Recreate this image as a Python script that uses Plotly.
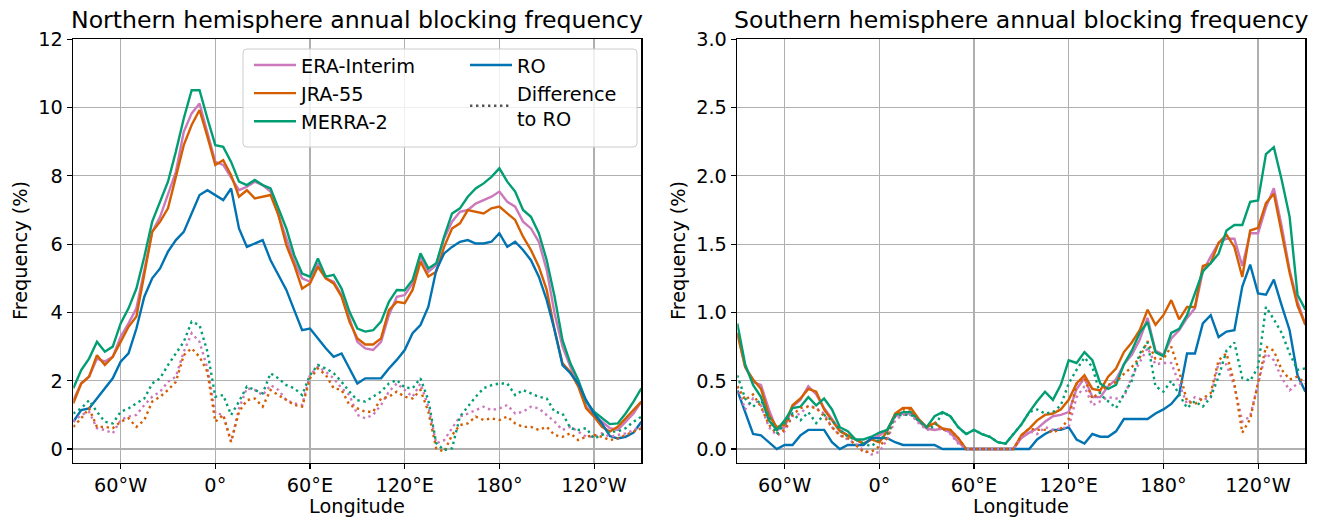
import plotly.graph_objects as go

W, H = 1324, 520

lon = [-90, -85, -80, -75, -70, -65, -60, -55, -50, -45, -40, -35, -30, -25, -20, -15, -10, -5, 0,
       5, 10, 15, 20, 25, 30, 35, 40, 45, 50, 55, 60, 65, 70, 75, 80, 85, 90, 95, 100, 105, 110, 115,
       120, 125, 130, 135, 140, 145, 150, 155, 160, 165, 170, 175, 180, 185, 190, 195, 200, 205, 210,
       215, 220, 225, 230, 235, 240, 245, 250, 255, 260, 265, 270]

xtick_vals = [-60, 0, 60, 120, 180, 240]
xtick_text = ["60°W", "0°", "60°E", "120°E", "180°", "120°W"]
nh_yticks = [0, 2, 4, 6, 8, 10, 12]
sh_yticks = [0.0, 0.5, 1.0, 1.5, 2.0, 2.5, 3.0]

# ---------------- Northern hemisphere ----------------
nh_era = [1.43, 1.92, 2.12, 2.65, 2.56, 2.70, 3.29, 3.68, 4.12, 5.29, 6.36, 6.80, 7.44, 8.12, 9.29, 9.83, 10.12, 9.29, 8.41,
          8.32, 7.93, 7.58, 7.68, 7.83, 7.73, 7.54, 6.85, 6.17, 5.49, 5.00, 4.90, 5.44, 5.00, 4.90, 4.51, 3.83, 3.14, 2.95, 2.90, 3.14, 3.92, 4.46,
          4.51, 4.85, 5.63, 5.19, 5.39, 6.17, 6.66, 6.95, 7.00, 7.19, 7.29, 7.39, 7.54, 7.24, 7.10, 6.66, 6.46, 6.07, 5.24,
          3.97, 3.00, 2.41, 1.92, 1.24, 1.00, 0.80, 0.61, 0.56, 0.80, 1.04, 1.39]
nh_jra = [1.34, 1.92, 2.12, 2.75, 2.46, 2.70, 3.14, 3.58, 3.88, 5.10, 6.36, 6.66, 7.05, 7.97, 8.90, 9.49, 9.93, 9.15, 8.32,
          8.46, 8.02, 7.39, 7.58, 7.34, 7.39, 7.44, 6.85, 5.97, 5.39, 4.70, 4.85, 5.34, 5.00, 4.85, 4.46, 3.73, 3.24, 3.06, 3.06, 3.24, 4.07, 4.31,
          4.27, 4.66, 5.49, 5.05, 5.19, 5.92, 6.46, 6.61, 7.00, 6.95, 6.90, 7.05, 7.10, 6.90, 6.71, 6.22, 5.83, 5.34, 4.66,
          3.48, 2.51, 2.26, 1.83, 1.19, 0.95, 0.65, 0.51, 0.65, 0.90, 1.14, 1.39]
nh_merra = [1.78, 2.31, 2.65, 3.14, 2.85, 3.00, 3.68, 4.12, 4.70, 5.63, 6.66, 7.24, 7.83, 8.71, 9.68, 10.51, 10.51, 9.68, 8.90,
            8.85, 8.41, 7.83, 7.73, 7.88, 7.73, 7.63, 7.05, 6.46, 5.68, 5.14, 5.05, 5.58, 5.05, 5.10, 4.70, 4.02, 3.53, 3.44, 3.48, 3.73, 4.31, 4.66,
            4.65, 4.95, 5.73, 5.29, 5.44, 6.22, 6.90, 7.05, 7.39, 7.63, 7.78, 7.97, 8.22, 7.83, 7.54, 7.00, 6.80, 6.32, 5.53,
            4.46, 3.19, 2.51, 2.02, 1.39, 1.09, 0.90, 0.73, 0.75, 1.04, 1.39, 1.78]
nh_ro = [0.80, 1.14, 1.19, 1.48, 1.78, 2.07, 2.56, 2.80, 3.53, 4.46, 5.00, 5.29, 5.78, 6.12, 6.36, 6.90, 7.44, 7.58, 7.44,
         7.29, 7.63, 6.46, 5.92, 6.02, 6.12, 5.53, 5.10, 4.66, 4.07, 3.48, 3.53, 3.24, 2.95, 2.70, 2.80, 2.36, 1.92, 2.07, 2.07, 2.07, 2.36, 2.61,
         2.90, 3.39, 3.63, 4.17, 5.24, 5.73, 5.92, 6.07, 6.12, 6.02, 6.02, 6.07, 6.32, 5.92, 6.07, 5.83, 5.53, 5.05, 4.36,
         3.48, 2.46, 2.22, 1.92, 1.43, 1.04, 0.75, 0.38, 0.31, 0.36, 0.48, 0.80]
nh_era_diff = [0.80, 1.00, 1.09, 0.61, 0.56, 0.46, 0.85, 0.95, 1.00, 1.29, 1.53, 1.68, 1.97, 2.12, 2.85, 3.39, 3.14, 2.36, 1.05,
               1.00, 0.21, 1.19, 1.78, 1.73, 1.58, 1.87, 1.73, 1.43, 1.34, 1.29, 2.17, 2.41, 2.26, 2.07, 1.78, 1.58, 1.00, 0.90, 1.00, 1.29, 1.68, 1.92,
               1.73, 1.53, 1.92, 1.24, 0.17, 0.26, 0.61, 0.95, 1.04, 1.14, 1.24, 1.14, 1.19, 1.29, 1.04, 1.09, 1.24, 1.19, 1.00,
               0.80, 0.56, 0.65, 0.51, 0.36, 0.36, 0.46, 0.36, 0.41, 0.46, 0.56, 0.65]
nh_jra_diff = [0.65, 0.90, 1.19, 0.65, 0.65, 0.61, 0.80, 0.90, 0.65, 0.85, 1.39, 1.53, 1.73, 1.97, 2.75, 2.95, 2.70, 2.26, 0.80,
               1.00, 0.21, 1.09, 1.43, 1.48, 1.24, 1.73, 1.58, 1.43, 1.29, 1.24, 2.07, 2.36, 2.17, 1.78, 1.73, 1.29, 1.19, 1.09, 1.09, 1.48, 1.53, 1.68,
               1.53, 1.48, 1.73, 1.09, 0.02, -0.08, 0.41, 0.70, 0.75, 0.95, 0.85, 0.90, 0.85, 0.95, 0.75, 0.65, 0.65, 0.56, 0.65,
               0.41, 0.36, 0.46, 0.26, 0.36, 0.41, 0.36, 0.26, 0.31, 0.41, 0.51, 0.61]
nh_merra_diff = [1.04, 1.19, 1.43, 1.09, 0.80, 0.75, 1.09, 1.19, 1.34, 1.48, 1.92, 2.07, 2.46, 2.80, 3.14, 3.73, 3.63, 2.85, 1.53,
                 1.58, 1.00, 1.39, 1.83, 1.73, 1.63, 2.22, 2.07, 1.87, 1.78, 1.58, 2.17, 2.46, 2.36, 2.22, 1.97, 1.68, 1.43, 1.39, 1.53, 1.68, 1.92, 2.02,
                 1.80, 1.78, 2.07, 1.43, 0.17, -0.03, 0.02, 0.95, 1.24, 1.53, 1.78, 1.87, 1.92, 1.92, 1.58, 1.73, 1.63, 1.53, 1.48,
                 1.09, 1.04, 0.61, 0.56, 0.61, 0.31, 0.41, 0.51, 0.51, 0.61, 0.80, 0.95]

# ---------------- Southern hemisphere ----------------
sh_era = [0.85, 0.60, 0.49, 0.47, 0.29, 0.14, 0.16, 0.31, 0.36, 0.46, 0.40, 0.30, 0.22, 0.14, 0.10, 0.07, 0.04, 0.07, 0.10,
          0.14, 0.24, 0.26, 0.26, 0.20, 0.15, 0.14, 0.15, 0.12, 0.05, 0.00, 0.00, 0.00, 0.00, 0.00, 0.00, 0.00, 0.08, 0.12, 0.15, 0.20, 0.24, 0.25,
          0.27, 0.44, 0.52, 0.38, 0.38, 0.46, 0.51, 0.62, 0.69, 0.80, 0.96, 0.72, 0.69, 0.81, 0.87, 0.96, 1.03, 1.30, 1.41,
          1.51, 1.54, 1.54, 1.34, 1.58, 1.58, 1.77, 1.91, 1.63, 1.31, 1.08, 0.91]
sh_jra = [0.85, 0.60, 0.51, 0.44, 0.25, 0.16, 0.18, 0.32, 0.37, 0.44, 0.42, 0.29, 0.21, 0.13, 0.10, 0.07, 0.04, 0.07, 0.05,
          0.13, 0.26, 0.30, 0.30, 0.22, 0.16, 0.19, 0.15, 0.14, 0.08, 0.00, 0.00, 0.00, 0.00, 0.00, 0.00, 0.00, 0.10, 0.15, 0.21, 0.25, 0.26, 0.29,
          0.36, 0.48, 0.54, 0.44, 0.43, 0.53, 0.59, 0.71, 0.78, 0.87, 1.02, 0.91, 0.98, 1.09, 0.95, 1.04, 1.04, 1.34, 1.36,
          1.51, 1.57, 1.48, 1.26, 1.60, 1.62, 1.80, 1.87, 1.59, 1.29, 1.05, 0.91]
sh_merra = [0.92, 0.62, 0.47, 0.38, 0.21, 0.14, 0.21, 0.30, 0.31, 0.38, 0.32, 0.37, 0.29, 0.16, 0.13, 0.07, 0.07, 0.09, 0.12,
            0.14, 0.25, 0.27, 0.27, 0.21, 0.16, 0.24, 0.27, 0.24, 0.16, 0.11, 0.14, 0.11, 0.09, 0.05, 0.04, 0.11, 0.18, 0.27, 0.35, 0.42, 0.36, 0.47,
            0.65, 0.63, 0.71, 0.65, 0.48, 0.44, 0.47, 0.62, 0.72, 0.85, 0.93, 0.71, 0.68, 0.85, 0.88, 0.98, 1.14, 1.30, 1.36,
            1.43, 1.60, 1.64, 1.64, 1.81, 1.82, 2.16, 2.21, 1.97, 1.70, 1.13, 1.02]
sh_ro = [0.43, 0.27, 0.11, 0.10, 0.05, 0.00, 0.03, 0.03, 0.10, 0.14, 0.14, 0.14, 0.05, 0.00, 0.03, 0.03, 0.03, 0.08, 0.08,
         0.08, 0.05, 0.03, 0.03, 0.03, 0.03, 0.03, 0.00, 0.00, 0.00, 0.00, 0.00, 0.00, 0.00, 0.00, 0.00, 0.00, 0.00, 0.00, 0.07, 0.11, 0.14, 0.14,
         0.16, 0.07, 0.04, 0.11, 0.09, 0.09, 0.13, 0.22, 0.22, 0.22, 0.22, 0.26, 0.29, 0.33, 0.40, 0.70, 0.70, 0.92, 0.98,
         0.82, 0.86, 0.87, 1.19, 1.35, 1.14, 1.13, 1.24, 1.05, 0.87, 0.54, 0.42]
sh_era_diff = [0.46, 0.29, 0.37, 0.32, 0.16, 0.10, 0.13, 0.24, 0.26, 0.32, 0.30, 0.26, 0.16, 0.10, 0.07, 0.04, -0.01, -0.04, -0.02,
               0.07, 0.21, 0.25, 0.25, 0.19, 0.14, 0.14, 0.15, 0.11, 0.04, 0.00, 0.00, 0.00, 0.00, 0.00, 0.00, 0.00, 0.08, 0.13, 0.11, 0.16, 0.14, 0.15,
               0.16, 0.38, 0.46, 0.32, 0.35, 0.38, 0.37, 0.38, 0.53, 0.63, 0.74, 0.62, 0.63, 0.63, 0.48, 0.33, 0.38, 0.36, 0.38,
               0.63, 0.62, 0.46, 0.20, 0.24, 0.48, 0.70, 0.65, 0.52, 0.43, 0.48, 0.48]
sh_jra_diff = [0.46, 0.36, 0.40, 0.31, 0.18, 0.11, 0.14, 0.25, 0.30, 0.31, 0.30, 0.24, 0.16, 0.10, 0.08, 0.03, -0.02, -0.02, 0.02,
               0.08, 0.25, 0.29, 0.29, 0.21, 0.16, 0.20, 0.14, 0.14, 0.08, 0.00, 0.00, 0.00, 0.00, 0.00, 0.00, 0.00, 0.10, 0.15, 0.14, 0.14, 0.12, 0.15,
               0.22, 0.48, 0.52, 0.37, 0.42, 0.47, 0.49, 0.55, 0.60, 0.67, 0.79, 0.66, 0.66, 0.75, 0.57, 0.35, 0.33, 0.37, 0.41,
               0.65, 0.70, 0.48, 0.12, 0.22, 0.48, 0.75, 0.72, 0.58, 0.51, 0.53, 0.48]
sh_merra_diff = [0.54, 0.37, 0.31, 0.36, 0.24, 0.11, 0.19, 0.26, 0.21, 0.27, 0.19, 0.25, 0.21, 0.14, 0.09, 0.07, 0.04, 0.02, 0.07,
                 0.11, 0.24, 0.25, 0.25, 0.21, 0.16, 0.16, 0.27, 0.24, 0.16, 0.11, 0.14, 0.11, 0.09, 0.05, 0.04, 0.11, 0.18, 0.27, 0.29, 0.26, 0.27, 0.32,
                 0.48, 0.58, 0.67, 0.60, 0.40, 0.35, 0.30, 0.40, 0.50, 0.70, 0.78, 0.46, 0.42, 0.50, 0.40, 0.30, 0.35, 0.31, 0.38,
                 0.53, 0.72, 0.78, 0.52, 0.50, 0.60, 1.04, 0.95, 0.85, 0.70, 0.58, 0.59]

names = ["ERA-Interim", "JRA-55", "MERRA-2", "RO"]
colors = {"ERA-Interim": "#CC78BC", "JRA-55": "#D55E00", "MERRA-2": "#029E73", "RO": "#0173B2"}

FONT = "DejaVu Sans, Verdana, sans-serif"
FS = 19.3
LW = 2.4


def px(x):
    return x / W


def py(y):
    return 1 - y / H


fig = go.Figure()

panels = [
    ("x", "y", {"ERA-Interim": nh_era, "JRA-55": nh_jra, "MERRA-2": nh_merra, "RO": nh_ro},
     {"ERA-Interim": nh_era_diff, "JRA-55": nh_jra_diff, "MERRA-2": nh_merra_diff}, True),
    ("x2", "y2", {"ERA-Interim": sh_era, "JRA-55": sh_jra, "MERRA-2": sh_merra, "RO": sh_ro},
     {"ERA-Interim": sh_era_diff, "JRA-55": sh_jra_diff, "MERRA-2": sh_merra_diff}, False),
]

for xa, ya, solid, diff, first in panels:
    for n in names:
        fig.add_trace(go.Scatter(
            x=lon, y=solid[n], mode="lines", name=n, xaxis=xa, yaxis=ya,
            line=dict(color=colors[n], width=LW),
            showlegend=first, legend="legend2" if n == "RO" else "legend",
            legendgroup=n, hoverinfo="skip"))
    for n in ["ERA-Interim", "JRA-55", "MERRA-2"]:
        fig.add_trace(go.Scatter(
            x=lon, y=diff[n], mode="lines", name=n + " diff", xaxis=xa, yaxis=ya,
            line=dict(color=colors[n], width=LW, dash="2.4px,3.6px"),
            showlegend=False, hoverinfo="skip"))

# legend-only entry for the dotted difference lines
fig.add_trace(go.Scatter(
    x=[None], y=[None], mode="lines", name="Difference<br>to RO", xaxis="x", yaxis="y",
    line=dict(color="#555555", width=LW, dash="2.4px,3.6px"),
    showlegend=True, legend="legend2", legendgroup="diff"))

axis_common = dict(
    showline=True, mirror=True, linecolor="black", linewidth=1.1,
    showgrid=True, gridcolor="#b0b0b0", gridwidth=1.2,
    ticks="outside", ticklen=5.5, tickwidth=1.1, tickcolor="black",
    zeroline=False, tickfont=dict(family=FONT, size=FS, color="black"),
    fixedrange=True, automargin=False,
)

ydom = [py(462.7), py(39.3)]
fig.update_layout(
    template="none",
    width=W, height=H,
    margin=dict(l=0, r=0, t=0, b=0, pad=0, autoexpand=False),
    paper_bgcolor="white", plot_bgcolor="white",
    font=dict(family=FONT, size=FS, color="black"),
    xaxis=dict(domain=[px(73.3), px(641.4)], range=[-90, 270], tickvals=xtick_vals, ticktext=xtick_text,
               anchor="y", **axis_common),
    yaxis=dict(domain=ydom, range=[-0.4, 12], tickvals=nh_yticks, anchor="x", **axis_common),
    xaxis2=dict(domain=[px(737.3), px(1305.4)], range=[-90, 270], tickvals=xtick_vals, ticktext=xtick_text,
                anchor="y2", **axis_common),
    yaxis2=dict(domain=ydom, range=[-0.1, 3.0], tickvals=sh_yticks, tickformat=".1f", anchor="x2", **axis_common),
    legend=dict(x=px(249), xanchor="left", y=py(46), yanchor="top", bgcolor="rgba(0,0,0,0)",
                borderwidth=0, font=dict(family=FONT, size=FS, color="black"), itemwidth=42,
                tracegroupgap=0, traceorder="normal"),
    legend2=dict(x=px(465), xanchor="left", y=py(46), yanchor="top", bgcolor="rgba(0,0,0,0)",
                 borderwidth=0, font=dict(family=FONT, size=FS, color="black"), itemwidth=42,
                 tracegroupgap=3, traceorder="normal"),
    showlegend=True,
)

# legend frame (rounded box)
x0, x1, y0, y1, r = 243, 637, 49, 147, 4
path = (f"M {px(x0 + r)},{py(y0)} L {px(x1 - r)},{py(y0)} Q {px(x1)},{py(y0)} {px(x1)},{py(y0 + r)} "
        f"L {px(x1)},{py(y1 - r)} Q {px(x1)},{py(y1)} {px(x1 - r)},{py(y1)} "
        f"L {px(x0 + r)},{py(y1)} Q {px(x0)},{py(y1)} {px(x0)},{py(y1 - r)} "
        f"L {px(x0)},{py(y0 + r)} Q {px(x0)},{py(y0)} {px(x0 + r)},{py(y0)} Z")
fig.add_shape(type="path", path=path, xref="paper", yref="paper",
              fillcolor="rgba(255,255,255,0.8)", line=dict(color="#cccccc", width=1), layer="above")

ann = []
for cx, title in [((73.3 + 641.4) / 2, "Northern hemisphere annual blocking frequency"),
                  ((737.3 + 1305.4) / 2, "Southern hemisphere annual blocking frequency")]:
    ann.append(dict(x=px(cx), y=py(20), xref="paper", yref="paper", text=title, showarrow=False,
                    xanchor="center", yanchor="middle", font=dict(family=FONT, size=23.6, color="black")))
    ann.append(dict(x=px(cx), y=py(506), xref="paper", yref="paper", text="Longitude", showarrow=False,
                    xanchor="center", yanchor="middle", font=dict(family=FONT, size=FS, color="black")))
for cx in [20, 678]:
    ann.append(dict(x=px(cx), y=py(251), xref="paper", yref="paper", text="Frequency (%)", showarrow=False,
                    textangle=-90, xanchor="center", yanchor="middle",
                    font=dict(family=FONT, size=FS, color="black")))
fig.update_layout(annotations=ann)

fig.write_html(
    "out.html",
    config={"displayModeBar": False, "staticPlot": True},
    post_script="document.documentElement.style.margin='0';document.body.style.margin='0';"
                "document.body.style.overflow='hidden';",
)
